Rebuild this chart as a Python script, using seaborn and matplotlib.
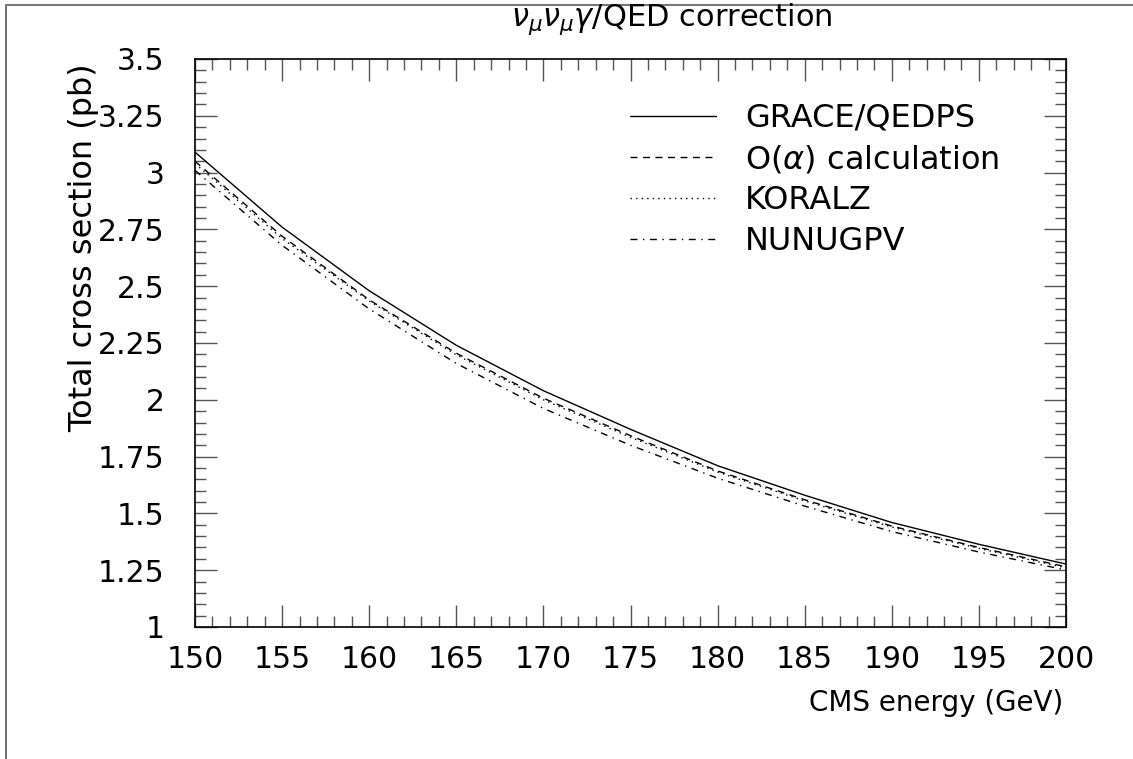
import numpy as np
import pandas as pd
import seaborn as sns
import matplotlib.pyplot as plt
from matplotlib.lines import Line2D
from matplotlib.ticker import MultipleLocator, FixedLocator, FixedFormatter

# -----------------------------
# data
# -----------------------------
energy = [150, 155, 160, 165, 170, 175, 180, 185, 190, 195, 200]
grace_qedps = [3.09, 2.76, 2.48, 2.24, 2.04, 1.87, 1.71, 1.58, 1.46, 1.364, 1.277]
o_alpha = [3.05, 2.72, 2.44, 2.205, 2.007, 1.842, 1.687, 1.560, 1.444, 1.350, 1.265]
koralz = [3.04, 2.71, 2.435, 2.198, 2.000, 1.835, 1.682, 1.555, 1.440, 1.346, 1.260]
nunugpv = [3.01, 2.68, 2.40, 2.16, 1.962, 1.80, 1.655, 1.532, 1.420, 1.330, 1.251]

series_names = ["GRACE/QEDPS", r"O($\alpha$) calculation", "KORALZ", "NUNUGPV"]
series_values = [grace_qedps, o_alpha, koralz, nunugpv]

x_ticks = [150, 155, 160, 165, 170, 175, 180, 185, 190, 195, 200]
y_ticks = [1, 1.25, 1.5, 1.75, 2, 2.25, 2.5, 2.75, 3, 3.25, 3.5]
y_tick_labels = ["1", "1.25", "1.5", "1.75", "2", "2.25", "2.5", "2.75", "3", "3.25", "3.5"]

# long table for seaborn
df = pd.concat([pd.DataFrame({"energy": energy, "xsec": v, "model": n})
                for n, v in zip(series_names, series_values)], ignore_index=True)

# -----------------------------
# plot
# -----------------------------
sns.set_style("white")
plt.rcParams['font.family'] = ['DejaVu Sans']
plt.rcParams['mathtext.fontset'] = 'dejavusans'
plt.rcParams['text.color'] = 'black'
plt.rcParams['xtick.labelcolor'] = 'black'
plt.rcParams['ytick.labelcolor'] = 'black'

W, H = 1133, 759
fig = plt.figure(figsize=(W / 100, H / 100), dpi=100)
ax = fig.add_axes([195 / W, 1 - 627 / H, (1066 - 195) / W, (627 - 59) / H])

dash_map = {
    "GRACE/QEDPS": "",
    r"O($\alpha$) calculation": (5, 4),
    "KORALZ": (1, 3),
    "NUNUGPV": (5, 4, 1, 4),
}
sns.lineplot(data=df, x="energy", y="xsec", style="model", dashes=dash_map,
             color="black", linewidth=1.0, ax=ax, legend="brief")

ax.set_xlim(150, 200)
ax.set_ylim(1, 3.5)
ax.xaxis.set_major_locator(FixedLocator(x_ticks))
ax.xaxis.set_minor_locator(MultipleLocator(1))
ax.yaxis.set_major_locator(FixedLocator(y_ticks))
ax.yaxis.set_major_formatter(FixedFormatter(y_tick_labels))
ax.yaxis.set_minor_locator(MultipleLocator(0.05))

for s in ax.spines.values():
    s.set_visible(True)
    s.set_color("black")
    s.set_linewidth(1.2)

ax.tick_params(which="both", direction="in", top=True, right=True,
               bottom=True, left=True, color="#555555", width=1.0)
ax.tick_params(which="major", length=16, labelsize=21.5, labelcolor="black")
ax.tick_params(axis="x", which="major", pad=13)
ax.tick_params(axis="y", which="major", pad=22)
ax.tick_params(which="minor", length=8)

ax.set_xlabel("")
ax.set_ylabel("")

# legend
handles, labels = ax.get_legend_handles_labels()
leg = ax.legend(handles, labels, loc="upper left", frameon=False,
                bbox_to_anchor=(630 / W, 1 - 103 / H), bbox_transform=fig.transFigure,
                fontsize=23, handlelength=2.7, handletextpad=0.9,
                labelspacing=0.3, borderpad=0, borderaxespad=0)
for line in leg.get_lines():
    line.set_linewidth(1.0)
for t in leg.get_texts():
    t.set_color("black")

# texts
fig.text(672 / W, 1 - 19 / H, r"$\nu_\mu\nu_\mu\gamma$/QED correction",
         ha="center", va="center", fontsize=22)
fig.text(1063 / W, 1 - 703 / H, "CMS energy (GeV)", ha="right", va="center",
         fontsize=20)
fig.text(84 / W, 1 - 248 / H, "Total cross section (pb)", ha="center",
         va="center", rotation=90, fontsize=23)

# frame of the page (left and top edge)
fig.add_artist(Line2D([6 / W, 6 / W], [0, 1 - 5 / H], transform=fig.transFigure,
                      color="#555555", linewidth=1.2))
fig.add_artist(Line2D([6 / W, 1], [1 - 5 / H, 1 - 5 / H], transform=fig.transFigure,
                      color="#777777", linewidth=1.5))

fig.savefig("out.png", dpi=100)
